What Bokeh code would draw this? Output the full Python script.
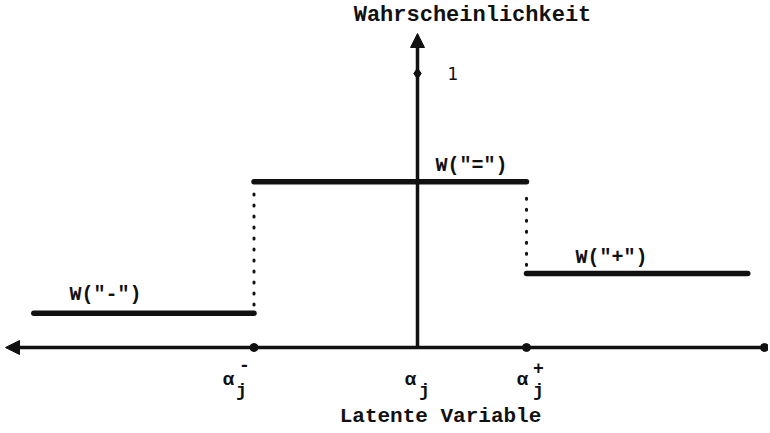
from bokeh.plotting import figure
from bokeh.models import Arrow, NormalHead
from bokeh.core.properties import value
from bokeh.embed import file_html
from bokeh.resources import INLINE

# ---- data ----
categories = ['W("-")', 'W("=")', 'W("+")']
probs = [0.125, 0.605, 0.27]            # probability level of each category
seg_start = [-3.52, -1.5, 1.0]          # latent variable interval start
seg_end = [-1.5, 1.0, 3.03]             # latent variable interval end
thresholds = [-1.5, 0.0, 1.0]           # alpha_j^-, alpha_j, alpha_j^+
threshold_marks = ["-", "", "+"]
y_tick_value = 1
y_tick_label = "1"
x_title = "Latente Variable"
y_title = "Wahrscheinlichkeit"

# ---- layout helpers (page pixel -> data) ----
PX_X0, SX = 417.0, 109.0
PX_Y0, SY = 347.0, 274.0
OFF = 0
def dx(px):
    return (px - PX_X0) / SX
def dy(py):
    return (PX_Y0 - py) / SY

W, H = 768, 431
p = figure(width=W, height=H, x_range=(dx(OFF), dx(OFF + W)), y_range=(dy(OFF + H), dy(OFF)),
           output_backend="svg", toolbar_location=None, min_border=0)
p.axis.visible = False
p.grid.visible = False
p.outline_line_color = None
p.background_fill_color = "white"

FONT = value("Liberation Mono")
INK = "#111111"

# horizontal axis (arrow pointing left, dot at right end)
p.add_layout(Arrow(end=NormalHead(size=14, fill_color=INK, line_color=INK),
                   x_start=dx(765), y_start=0, x_end=dx(5), y_end=0,
                   line_width=3.5, line_color=INK))
p.scatter(x=[dx(764)], y=[0], size=8, color=INK)

# vertical axis
p.add_layout(Arrow(end=NormalHead(size=14, fill_color=INK, line_color=INK),
                   x_start=0, y_start=0, x_end=0, y_end=dy(33),
                   line_width=3.5, line_color=INK))
p.scatter(x=[0], y=[y_tick_value], marker="diamond", size=11, color=INK)
p.text(x=[dx(447)], y=[y_tick_value], text=[y_tick_label], text_font=value("DejaVu Sans"),
       text_font_size="17px", text_align="left", text_baseline="middle", text_color=INK)

# threshold dots on the axis
p.scatter(x=[thresholds[0], thresholds[2]], y=[0, 0], size=8, color=INK)

# step lines
p.segment(x0=seg_start, y0=probs, x1=seg_end, y1=probs, line_width=5.5,
          line_color=INK, line_cap="round")

# dotted connectors
p.segment(x0=[thresholds[0], thresholds[2]], y0=[probs[0] + 0.03, probs[2] + 0.03],
          x1=[thresholds[0], thresholds[2]], y1=[probs[1] - 0.03, probs[1] - 0.03],
          line_width=3, line_color=INK, line_dash="1 10", line_cap="round")

# category labels
p.text(x=[dx(105), dx(471), dx(611)], y=[dy(294), dy(165), dy(257)], text=categories,
       text_font=FONT, text_font_size="20px", text_font_style="bold",
       text_align="center", text_baseline="middle", text_color=INK)

# alpha labels
alpha_px = [228, 410, 522]
j_px = [241, 424, 538]
p.text(x=[dx(v) for v in alpha_px], y=[dy(379)] * 3, text=["α"] * 3,
       text_font=FONT, text_font_size="19px", text_font_style="bold",
       text_align="center", text_baseline="middle", text_color=INK)
p.text(x=[dx(v) for v in j_px], y=[dy(390)] * 3, text=["j"] * 3,
       text_font=FONT, text_font_size="18px", text_font_style="bold",
       text_align="center", text_baseline="middle", text_color=INK)
p.text(x=[dx(244), dx(538)], y=[dy(364), dy(367)], text=[threshold_marks[0], threshold_marks[2]],
       text_font=FONT, text_font_size="18px", text_font_style="bold",
       text_align="center", text_baseline="middle", text_color=INK)

# titles
p.text(x=[dx(472)], y=[dy(15)], text=[y_title], text_font=FONT, text_font_size="22px",
       text_font_style="bold", text_align="center", text_baseline="middle", text_color=INK)
p.text(x=[dx(440)], y=[dy(416)], text=[x_title], text_font=FONT, text_font_size="21px",
       text_font_style="bold", text_align="center", text_baseline="middle", text_color=INK)

open("out.html", "w").write(file_html(p, INLINE))
